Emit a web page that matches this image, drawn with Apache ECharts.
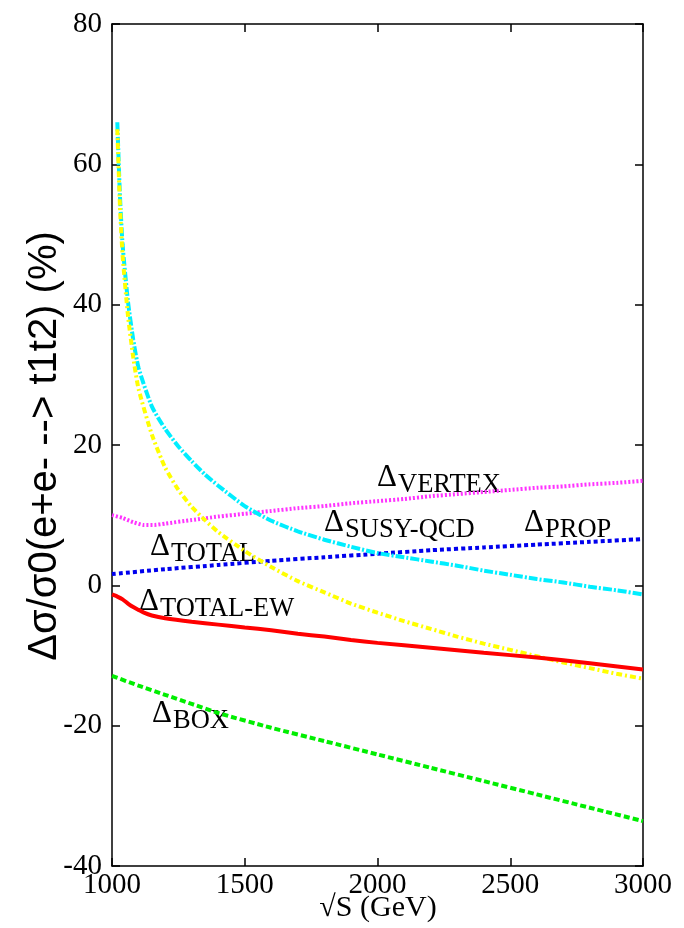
<!DOCTYPE html>
<html>
<head>
<meta charset="utf-8">
<script src="https://cdn.jsdelivr.net/npm/echarts@6/dist/echarts.min.js"></script>
<style>
  html, body { margin: 0; padding: 0; background: #fff; }
  #chart { width: 684px; height: 928px; }
</style>
</head>
<body>
<div id="chart"></div>
<script>
// Relative corrections to sigma(e+e- -> t1 t2) versus sqrt(s), in percent.
const xTicks = [1000, 1500, 2000, 2500, 3000];
const yTicks = [-40, -20, 0, 20, 40, 60, 80];

// SUSY-QCD and total corrections (steep near threshold)
const sSteep = [1020, 1030, 1040, 1060, 1080, 1100, 1150, 1200, 1250, 1300, 1350, 1400, 1500, 1600, 1700, 1800, 1900, 2000, 2100, 2200, 2300, 2400, 2500, 2600, 2700, 2800, 2900, 3000];
const susyQcd = [66.0, 55.5, 48.5, 40.5, 35.0, 31.0, 25.5, 22.3, 19.8, 17.7, 15.8, 14.2, 11.3, 9.2, 7.7, 6.5, 5.5, 4.6, 4.0, 3.4, 2.8, 2.1, 1.5, 0.9, 0.4, -0.2, -0.7, -1.3];
const total = [65.0, 54.0, 47.0, 38.5, 32.5, 28.0, 21.5, 16.8, 13.6, 11.2, 9.3, 7.6, 4.9, 2.6, 0.6, -1.0, -2.6, -3.9, -5.1, -6.2, -7.3, -8.3, -9.2, -10.1, -11.0, -11.8, -12.6, -13.3];

// Vertex, propagator, electroweak total and box corrections
const sVertex = [1000, 1040, 1080, 1120, 1160, 1200, 1300, 1400, 1500, 1600, 1700, 1800, 1900, 2000, 2100, 2200, 2300, 2400, 2500, 2600, 2700, 2800, 2900, 3000];
const vertex = [10.0, 9.6, 9.0, 8.6, 8.6, 8.8, 9.3, 9.8, 10.2, 10.6, 11.0, 11.3, 11.7, 12.0, 12.3, 12.7, 13.0, 13.3, 13.6, 13.9, 14.1, 14.4, 14.6, 14.9];

const sProp = [1000, 1200, 1400, 1600, 1800, 2000, 2200, 2400, 2600, 2800, 3000];
const prop = [1.6, 2.3, 2.9, 3.5, 4.0, 4.5, 5.0, 5.4, 5.8, 6.2, 6.6];

const sEw = [1000, 1020, 1040, 1060, 1080, 1100, 1120, 1150, 1200, 1300, 1400, 1500, 1600, 1700, 1800, 1900, 2000, 2200, 2400, 2600, 2800, 3000];
const totalEw = [-1.3, -1.6, -2.0, -2.6, -3.1, -3.5, -3.9, -4.3, -4.7, -5.2, -5.6, -6.0, -6.4, -6.9, -7.3, -7.8, -8.2, -8.9, -9.6, -10.3, -11.1, -12.0];

const sBox = [1000, 1100, 1200, 1300, 1400, 1600, 1800, 2000, 2200, 2400, 2600, 2800, 3000];
const box = [-12.9, -14.3, -15.6, -16.9, -18.2, -20.3, -22.2, -24.1, -26.0, -27.9, -29.8, -31.7, -33.6];

const pairs = (xs, ys) => xs.map((x, i) => [x, ys[i]]);

const SERIF = '"Liberation Serif", "Times New Roman", serif';
const SANS = '"Liberation Sans", Arial, sans-serif';

function curve(name, xs, ys, color, dash, width) {
  return {
    name, type: 'line', data: pairs(xs, ys), showSymbol: false, smooth: 0.2,
    lineStyle: { color, width, type: dash }, z: 3
  };
}

// Δ followed by a lowered subscript; (x, y) is Δ's left edge and vertical centre
function deltaLabel(x, y, sub) {
  return {
    type: 'group', x, y,
    children: [
      { type: 'text', x: 0, y: 0, style: { text: 'Δ', font: '31px ' + SERIF, fill: '#000', align: 'left', verticalAlign: 'middle' } },
      { type: 'text', x: 21, y: 7, style: { text: sub, font: '26.5px ' + SERIF, fill: '#000', align: 'left', verticalAlign: 'middle' } }
    ]
  };
}

const axisCommon = {
  axisLine: { show: true, onZero: false, lineStyle: { color: '#000', width: 1.5 } },
  axisTick: { show: true, inside: true, length: 8, lineStyle: { color: '#000', width: 1.5 } },
  splitLine: { show: false }
};

const chart = echarts.init(document.getElementById('chart'), null, { renderer: 'canvas' });
chart.setOption({
  backgroundColor: '#fff',
  animation: false,
  grid: { left: 112, right: 41, top: 24, bottom: 62, containLabel: false },
  xAxis: [
    Object.assign({ type: 'value', min: xTicks[0], max: xTicks[xTicks.length - 1], interval: 500, position: 'bottom',
      axisLabel: { color: '#000', fontFamily: SERIF, fontSize: 29, margin: 5, formatter: v => String(v) } }, axisCommon),
    Object.assign({ type: 'value', min: xTicks[0], max: xTicks[xTicks.length - 1], interval: 500, position: 'top',
      axisLabel: { show: false } }, axisCommon)
  ],
  yAxis: [
    Object.assign({ type: 'value', min: yTicks[0], max: yTicks[yTicks.length - 1], interval: 20, position: 'left',
      axisLabel: { color: '#000', fontFamily: SERIF, fontSize: 29, margin: 10, verticalAlign: 'middle', padding: [0, 0, 4, 0], formatter: v => String(v) } }, axisCommon),
    Object.assign({ type: 'value', min: yTicks[0], max: yTicks[yTicks.length - 1], interval: 20, position: 'right',
      axisLabel: { show: false } }, axisCommon)
  ],
  series: [
    curve('VERTEX', sVertex, vertex, '#ff33ff', [2, 2], 4),
    curve('PROP', sProp, prop, '#0000ee', [4, 3], 4),
    curve('BOX', sBox, box, '#00ee00', [6, 3], 4),
    curve('SUSY-QCD', sSteep, susyQcd, '#00eeff', [9, 2, 2, 2], 4),
    curve('TOTAL', sSteep, total, '#ffff00', [6, 3, 2, 3], 4),
    curve('TOTAL-EW', sEw, totalEw, '#ff0000', 'solid', 4)
  ],
  graphic: [
    { type: 'text', x: 45, y: 446, rotation: Math.PI / 2,
      style: { text: 'Δσ/σ0(e+e- --> t1t2) (%)', font: '40px ' + SANS, fill: '#000', align: 'center', verticalAlign: 'middle' } },
    { type: 'text', x: 378, y: 908,
      style: { text: '√S (GeV)', font: '30px ' + SERIF, fill: '#000', align: 'center', verticalAlign: 'middle' } },
    deltaLabel(377, 478, 'VERTEX'),
    deltaLabel(324, 523, 'SUSY-QCD'),
    deltaLabel(524, 523, 'PROP'),
    deltaLabel(150, 547, 'TOTAL'),
    deltaLabel(139, 602, 'TOTAL-EW'),
    deltaLabel(152, 714, 'BOX')
  ]
});
</script>
</body>
</html>
